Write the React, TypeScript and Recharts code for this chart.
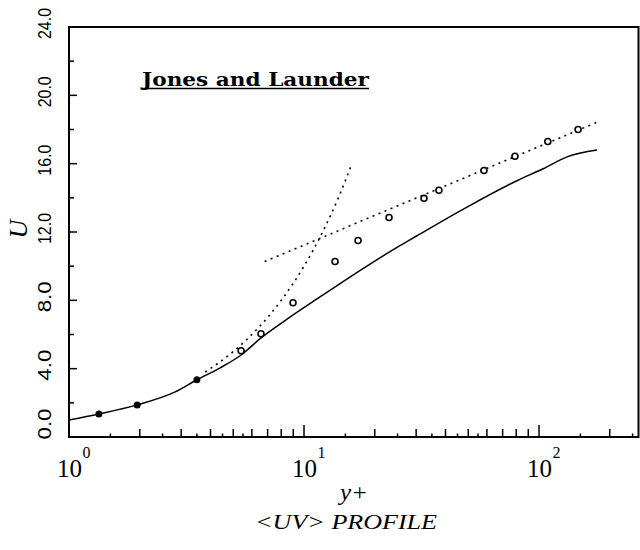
import React from 'react';
import { ComposedChart, Line, Scatter, XAxis, YAxis, ReferenceArea } from 'recharts';

// k-epsilon (Jones and Launder) model profile
const modelYPlus = [1.0, 1.34, 1.95, 2.83, 3.5, 4.4, 5.4, 6.56, 8.47, 11.7, 14.66, 20, 25.6, 30, 50, 80.5, 104, 131.5, 176.5];
const modelU = [1.0, 1.35, 1.88, 2.64, 3.35, 4.05, 4.8, 5.8, 6.9, 8.2, 9.1, 10.3, 11.2, 11.75, 13.5, 15.0, 15.7, 16.4, 16.8];

// filled markers on the model curve
const filledYPlus = [1.34, 1.95, 3.5];
const filledU = [1.35, 1.88, 3.35];

// open circles (experiment)
const expYPlus = [5.4, 6.56, 8.98, 13.55, 16.98, 23, 32.4, 37.5, 58.3, 79, 109, 146.6];
const expU = [5.05, 6.04, 7.86, 10.27, 11.5, 12.85, 13.97, 14.44, 15.6, 16.43, 17.3, 18.0];

// dotted reference lines
const sublayerYPlus = [3.8, 5, 6.5, 8, 10, 12, 14, 16];
const sublayerU = [3.8, 5, 6.5, 8, 10, 12, 14, 16];
const logLawYPlus = [6.8, 177];
const logLawU = [10.27, 18.43];

const xTicks = [1, 1.5, 2, 2.5, 3, 3.5, 4, 4.5, 5, 5.5, 6, 7, 8, 9,
  10, 15, 20, 25, 30, 35, 40, 45, 50, 55, 60, 70, 80, 90,
  100, 150, 200, 250];
const yTicks = [0, 2, 4, 6, 8, 10, 12, 14, 16, 18, 20, 22, 24];

const zip = (xs: number[], ys: number[]) => xs.map((x, i) => ({ x, u: ys[i] }));

const model = zip(modelYPlus, modelU);
const filled = zip(filledYPlus, filledU);
const exp = zip(expYPlus, expU);
const sublayer = zip(sublayerYPlus, sublayerU);
const logLaw = zip(logLawYPlus, logLawU);

const serif = '"Liberation Serif", "Times New Roman", serif';

function XTick(props: any) {
  const { x, y, payload } = props;
  const v = payload.value;
  const lg = Math.log10(v);
  const e = Math.round(lg);
  const decade = Math.abs(lg - e) < 1e-9;
  const mant = v / Math.pow(10, Math.floor(lg + 1e-9));
  const len = decade ? 12 : Math.abs(mant - Math.round(mant)) < 1e-9 ? 8 : 3.5;
  return (
    <g>
      {v > 1 && <line x1={x} x2={x} y1={y} y2={y - len} stroke="#000" strokeWidth={1.5} />}
      {decade && (
        <text x={x - 12} y={y + 40} fontSize={25} fontFamily={serif} fill="#000">
          10
          <tspan dx={0.5} dy={-19} fontSize={16}>{e}</tspan>
        </text>
      )}
    </g>
  );
}

function YTick(props: any) {
  const { x, y, payload } = props;
  const v = payload.value;
  const major = v % 4 === 0;
  const cx = x - 24;
  const cy = v === 0 ? y - 13 : y - 3.5;
  return (
    <g>
      {v > 0 && v < 24 && <line x1={x} x2={x + (major ? 8 : 5)} y1={y} y2={y} stroke="#000" strokeWidth={1.5} />}
      {major && (
        <text
          x={cx}
          y={cy}
          transform={`rotate(-90 ${cx} ${cy})`}
          textAnchor="middle"
          dominantBaseline="central"
          fontSize={18}
          textLength={31}
          lengthAdjust="spacingAndGlyphs"
          fontFamily='"Liberation Sans", Arial, sans-serif'
          fill="#000"
        >
          {v.toFixed(1)}
        </text>
      )}
    </g>
  );
}

const openCircle = (p: any) => (
  <circle cx={p.cx} cy={p.cy} r={3} fill="#fff" stroke="#000" strokeWidth={1.6} />
);
const filledDot = (p: any) => <circle cx={p.cx} cy={p.cy} r={3.5} fill="#000" />;

export default function App() {
  return (
    <div style={{ position: 'absolute', left: 0, top: 0, width: 640, height: 550, background: '#fff' }}>
      <ComposedChart width={640} height={550} margin={{ top: 27, right: 1.5, bottom: 0, left: 0 }}>
        <XAxis
          type="number"
          dataKey="x"
          scale="log"
          domain={[1, 265]}
          allowDataOverflow
          ticks={xTicks}
          interval={0}
          tickLine={false}
          axisLine={false}
          tickSize={0}
          tickMargin={0}
          height={113}
          tick={<XTick />}
        />
        <YAxis
          type="number"
          dataKey="u"
          domain={[0, 24]}
          allowDataOverflow
          ticks={yTicks}
          interval={0}
          tickLine={false}
          axisLine={false}
          tickSize={0}
          tickMargin={0}
          width={69}
          tick={<YTick />}
        />
        <ReferenceArea x1={1} x2={265} y1={0} y2={24} fill="none" stroke="#000" strokeWidth={2} ifOverflow="visible" />
        <Line data={model} dataKey="u" type="monotone" stroke="#000" strokeWidth={1.5} dot={false} isAnimationActive={false} />
        <Line data={sublayer} dataKey="u" type="monotone" stroke="#000" strokeWidth={1.6} strokeDasharray="2 4.5" dot={false} isAnimationActive={false} />
        <Line data={logLaw} dataKey="u" type="linear" stroke="#000" strokeWidth={1.6} strokeDasharray="2 4.5" dot={false} isAnimationActive={false} />
        <Scatter data={filled} dataKey="u" shape={filledDot} isAnimationActive={false} />
        <Scatter data={exp} dataKey="u" shape={openCircle} isAnimationActive={false} />
      </ComposedChart>
      <svg width={640} height={550} style={{ position: 'absolute', left: 0, top: 0, pointerEvents: 'none' }}>
        <text x={142} y={85.5} fontSize={19} fontWeight="bold" fontFamily='"DejaVu Serif", serif' textLength={227} lengthAdjust="spacingAndGlyphs" fill="#000">
          Jones and Launder
        </text>
        <line x1={142} x2={369} y1={88.5} y2={88.5} stroke="#000" strokeWidth={1.5} />
        <text x={18} y={229} transform="rotate(-90 18 229)" textAnchor="middle" dominantBaseline="central" fontSize={26} fontStyle="italic" fontFamily={serif} fill="#000">
          U
        </text>
        <text x={340} y={500} fontSize={24} fontStyle="italic" fontFamily={serif} textLength={28} lengthAdjust="spacingAndGlyphs" fill="#000">
          y+
        </text>
        <text x={255} y={529} fontSize={20} fontStyle="italic" fontFamily={serif} textLength={182} lengthAdjust="spacingAndGlyphs" fill="#000">
          {'<UV> PROFILE'}
        </text>
      </svg>
    </div>
  );
}
